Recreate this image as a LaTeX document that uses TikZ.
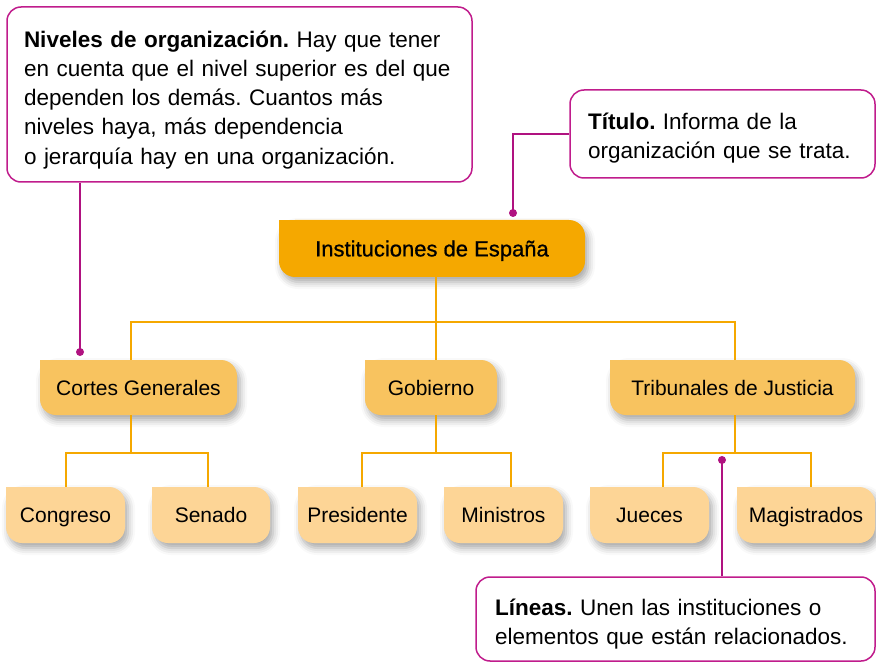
\documentclass[tikz,border=0pt]{standalone}
\usepackage{fontspec}
\setmainfont{Liberation Sans}
\newfontfamily\medfont[FakeBold=0.8]{Liberation Sans}
\usetikzlibrary{shadows.blur}
\definecolor{orA}{RGB}{245,168,0}
\definecolor{orB}{RGB}{248,195,95}
\definecolor{orC}{RGB}{253,213,150}
\definecolor{mag}{RGB}{176,18,128}
\definecolor{magb}{RGB}{192,28,140}
\begin{document}
\frenchspacing
\begin{tikzpicture}[x=1pt,y=-1pt,
  box/.style={rounded corners=16pt, inner sep=0pt, text=black,
    font=\fontsize{21}{25}\selectfont, text height=15pt, text depth=0pt,
    blur shadow={shadow xshift=3pt, shadow yshift=-5pt, shadow blur radius=7pt, shadow opacity=35}},
  lvlA/.style={box, fill=orA, minimum width=306pt, minimum height=57pt,
    font=\medfont\fontsize{22}{26}\selectfont, text height=15.8pt},
  lvlB/.style={box, fill=orB, minimum height=55pt},
  lvlC/.style={box, fill=orC, minimum height=56pt},
  conn/.style={draw=orA, line width=2.2pt},
  note/.style={draw=magb, line width=1.5pt, rounded corners=14pt, fill=white,
    align=left, inner sep=0pt, font=\fontsize{22.5}{29.2}\selectfont},
  mline/.style={draw=mag, line width=2pt}]
\useasboundingbox (0,0) rectangle (876,663);

% tree nodes
\node[lvlA] (inst) at (432,248.5) {Instituciones de España};
\node[lvlB, minimum width=197pt] (cortes) at (138.5,387.5) {Cortes Generales};
\node[lvlB, minimum width=132pt] (gob) at (431,387.5) {Gobierno};
\node[lvlB, minimum width=245pt] (trib) at (732.5,387.5) {Tribunales de Justicia};
\node[lvlC, minimum width=119pt] (congreso) at (65.5,515) {Congreso};
\node[lvlC, minimum width=118pt] (senado) at (211,515) {Senado};
\node[lvlC, minimum width=119pt] (presidente) at (357.5,515) {Presidente};
\node[lvlC, minimum width=119pt] (ministros) at (503.5,515) {Ministros};
\node[lvlC, minimum width=119pt] (jueces) at (649.5,515) {Jueces};
\node[lvlC, minimum width=138pt] (magis) at (806,515) {Magistrados};

\foreach \n/\c in {inst/orA, cortes/orB, gob/orB, trib/orB, congreso/orC, senado/orC,
  presidente/orC, ministros/orC, jueces/orC, magis/orC}
  \fill[\c] (\n.north west) rectangle ++(17,17);

% connectors
\coordinate (bar) at (436,322);
\draw[conn] ([xshift=4pt]inst.south) -- (bar);
\draw[conn] ([xshift=-7.5pt]cortes.north) |- (bar) -| ([xshift=2.5pt]trib.north);
\draw[conn] (bar) -- ([xshift=5pt]gob.north);

\draw[conn] ([xshift=-7.5pt]cortes.south) -- ++(0,38) coordinate (cj);
\draw[conn] ([xshift=0.5pt]congreso.north) |- (cj) -| ([xshift=-3pt]senado.north);
\draw[conn] ([xshift=5pt]gob.south) -- ++(0,38) coordinate (gj);
\draw[conn] ([xshift=4.5pt]presidente.north) |- (gj) -| ([xshift=7.5pt]ministros.north);
\draw[conn] ([xshift=2.5pt]trib.south) -- ++(0,38) coordinate (tj);
\draw[conn] ([xshift=13.5pt]jueces.north) |- (tj) -| ([xshift=5pt]magis.north);

% callouts
\node[note, minimum width=465pt, minimum height=175pt, text width=431pt] (niv) at (239.5,94.5)
  {\rule{0pt}{27pt}{\bfseries Niveles de organización.} Hay que tener\\
   en cuenta que el nivel superior es del que\\
   dependen los demás. Cuantos más\\
   niveles haya, más dependencia\\
   o jerarquía hay en una organización.};
\node[note, minimum width=305pt, minimum height=88pt, text width=269pt] (tit) at (722.5,134)
  {\rule{0pt}{24pt}{\bfseries Título.} Informa de la\\organización que se trata.};
\node[note, minimum width=399pt, minimum height=84pt, text width=361pt] (lin) at (675.5,619)
  {\rule{0pt}{26pt}{\bfseries Líneas.} Unen las instituciones o\\elementos que están relacionados.};

\coordinate (nivdot) at (80,352);
\coordinate (titdot) at (513,213);
\coordinate (lindot) at (722,460);
\draw[mline] (niv.south west -| nivdot) -- (nivdot);
\draw[mline] (tit.west) -| (titdot);
\draw[mline] (lin.north -| lindot) -- (lindot);
\foreach \d in {nivdot, titdot, lindot} \fill[mag] (\d) circle (4pt);
\end{tikzpicture}
\end{document}
